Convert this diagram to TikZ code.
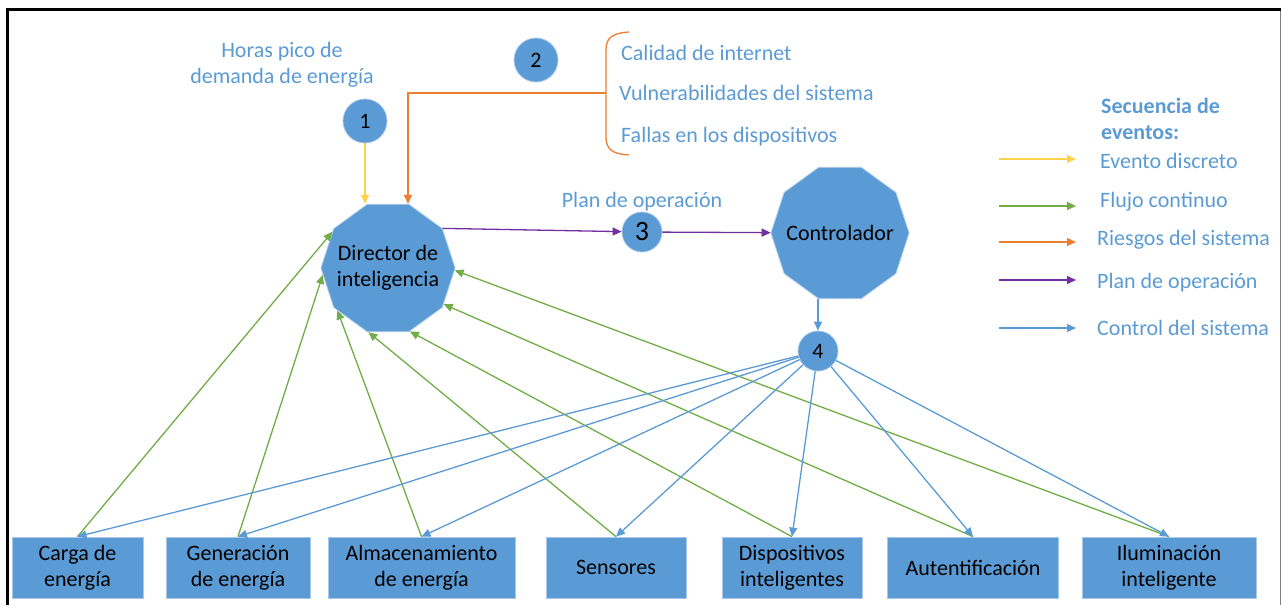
\documentclass[tikz,border=0pt]{standalone}
\usepackage{fontspec}
\setmainfont{Carlito}
\usetikzlibrary{shapes.geometric,arrows.meta,calc}
\definecolor{obl}{HTML}{5B9BD5}
\definecolor{ogr}{HTML}{70AD47}
\definecolor{oor}{HTML}{ED7D31}
\definecolor{opu}{HTML}{7030A0}
\definecolor{oye}{HTML}{FFD24D}
\definecolor{oedge}{HTML}{A9C8E8}
\begin{document}
\begin{tikzpicture}[x=1pt,y=-1pt,
  font=\fontsize{22}{26}\selectfont,
  shapefill/.style={fill=obl, draw=oedge, line width=0.8pt},
  boxnode/.style={shapefill, rectangle, inner sep=0pt, minimum height=61pt, align=center, text=black},
  deca/.style={shapefill, regular polygon, regular polygon sides=10, inner sep=0pt},
  decatext/.style={align=center, text=black, inner sep=0pt},
  numc/.style={shapefill, circle, inner sep=0pt, text=black},
  lbl/.style={text=obl, inner sep=0pt},
  arr/.style={-{Triangle[length=9pt,width=8pt]}, line width=1.3pt},
  yel/.style={arr, draw=oye},
  grn/.style={arr, draw=ogr},
  org/.style={arr, draw=oor},
  pur/.style={arr, draw=opu},
  blu/.style={arr, draw=obl}
]
\useasboundingbox (0,0) rectangle (1281,605);
% frame
\draw[line width=3pt] (7,605) -- (7,9.5) -- (1281,9.5);
\draw[gray, line width=1pt] (1280,11) -- (1280,605);

% main shapes
\node[deca, minimum size=134pt] (dir) at (388,268) {};
\node[decatext] (dirt) at (dir.center) {Director de\\inteligencia};
\node[deca, minimum size=138pt] (ctrl) at (840,233) {};
\node[decatext] (ctrlt) at (ctrl.center) {Controlador};
\node[numc, minimum size=44pt] (c1) at (365,121) {1};
\node[numc, minimum size=44pt] (c2) at (536,60) {2};
\node[numc, minimum size=40pt] (c3) at (642,232) {\fontsize{28}{30}\selectfont 3};
\node[numc, minimum size=40pt] (c4) at (818,351) {4};

% bottom boxes
\node[boxnode, minimum width=131pt] (b1) at (77.5,567.5) {Carga de\\energía};
\node[boxnode, minimum width=144pt] (b2) at (238,567.5) {Generación\\de energía};
\node[boxnode, minimum width=187pt] (b3) at (421.5,567.5) {Almacenamiento\\de energía};
\node[boxnode, minimum width=140pt] (b4) at (616,567.5) {Sensores};
\node[boxnode, minimum width=140pt] (b5) at (792,567.5) {Dispositivos\\inteligentes};
\node[boxnode, minimum width=171pt] (b6) at (973,567.5) {Autentificación};
\node[boxnode, minimum width=174pt] (b7) at (1169,567.5) {Iluminación\\inteligente};

% labels
\node[lbl, align=center] (hp) at (282,65) {Horas pico de\\demanda de energía};
\node[lbl, anchor=west] (r1) at (621,53) {Calidad de internet};
\node[lbl, anchor=west] (r2) at (619,93) {Vulnerabilidades del sistema};
\node[lbl, anchor=west] (r3) at (621,137) {Fallas en los dispositivos};
\node[lbl] (po) at (642,202) {Plan de operación};

% brace
\draw[oor, line width=1.3pt] (629,32) .. controls (612,33) and (606,38) .. (606,50)
  -- (606,137) .. controls (606,149) and (612,154) .. (629,155);
\coordinate (bt) at (606,93);

% connectors top
\draw[yel] (c1) -- (c1 |- dir.north);
\draw[org] (bt) -| ([xshift=20pt]dir.north);
\draw[pur] (dir.36) -- (c3);
\draw[pur] (c3) -- (ctrl);
\draw[blu] (ctrl.south -| c4) -- (c4);

% green: boxes to director
\draw[grn] (b1.north) -- (dir.147);
\draw[grn] (b2.north) -- (dir.186);
\draw[grn] (b3.north) -- (dir.220);
\draw[grn] (b4.north) -- (dir.253);
\draw[grn] (b5.north) -- (dir.289);
\draw[grn] (b6.north) -- (dir.327);
\draw[grn] (b7.north) -- (dir.358);

% blue: 4 to boxes
\foreach \b in {b1,b2,b3,b4,b5,b6,b7} \draw[blu] (c4) -- (\b.north);

% legend
\node[lbl, anchor=west, align=left, font=\fontsize{22}{26}\selectfont\bfseries] (lt) at (1101,119) {Secuencia de\\eventos:};
\coordinate (l1a) at (999,159); \coordinate (l1b) at (1076,159);
\coordinate (l2a) at (999,206); \coordinate (l2b) at (1076,206);
\coordinate (l3a) at (999,242); \coordinate (l3b) at (1076,242);
\coordinate (l4a) at (999,280); \coordinate (l4b) at (1076,280);
\coordinate (l5a) at (999,328); \coordinate (l5b) at (1076,328);
\draw[yel] (l1a) -- (l1b);
\draw[grn] (l2a) -- (l2b);
\draw[org] (l3a) -- (l3b);
\draw[pur] (l4a) -- (l4b);
\draw[blu] (l5a) -- (l5b);
\node[lbl, anchor=west] (e1) at (1100,161) {Evento discreto};
\node[lbl, anchor=west] (e2) at (1100,202) {Flujo continuo};
\node[lbl, anchor=west] (e3) at (1097,240) {Riesgos del sistema};
\node[lbl, anchor=west] (e4) at (1097,283) {Plan de operación};
\node[lbl, anchor=west] (e5) at (1097,328) {Control del sistema};
\end{tikzpicture}
\end{document}
